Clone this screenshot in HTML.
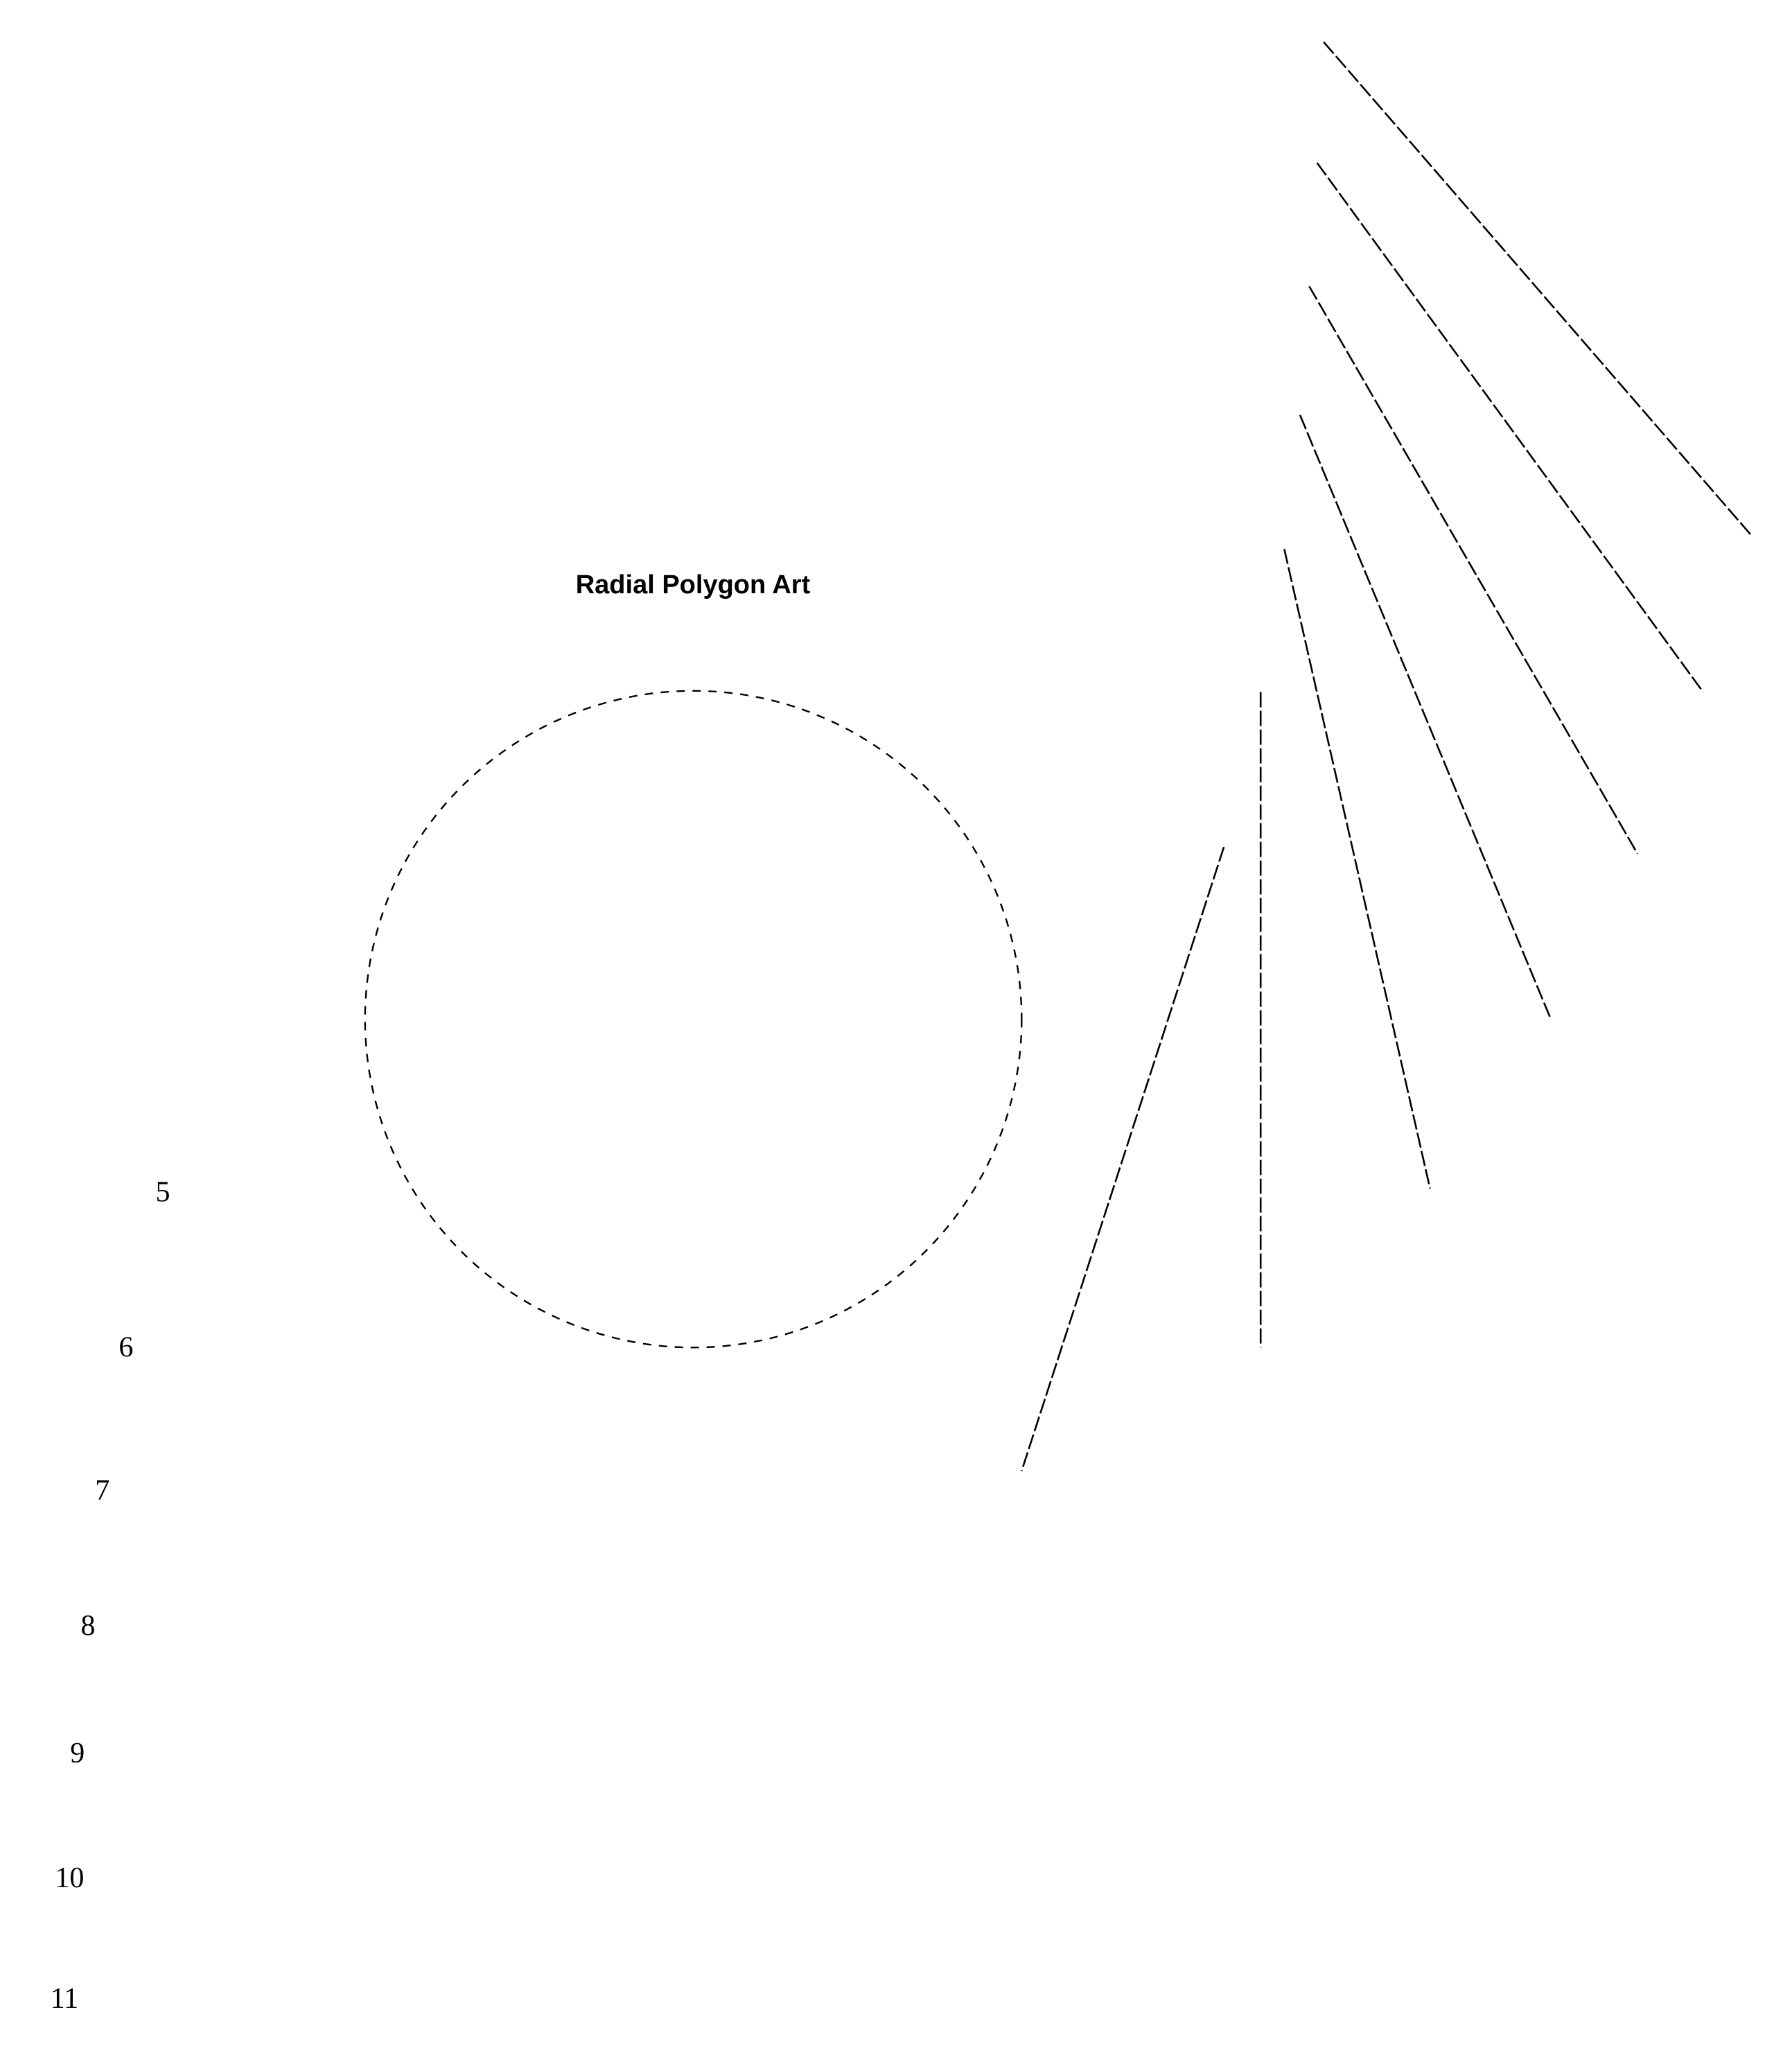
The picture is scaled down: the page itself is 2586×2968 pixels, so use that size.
<!DOCTYPE html>
<html><head><meta charset="utf-8"><style>
html,body{margin:0;padding:0;background:#fff;}
svg{display:block;}
</style></head><body>
<svg id="chart" width="2586" height="2968" viewBox="0 0 2586 2968" xmlns="http://www.w3.org/2000/svg">
<rect width="2586" height="2968" fill="#fff"/>
<text x="1000" y="856" text-anchor="middle" font-family="'Liberation Sans',sans-serif" font-weight="bold" font-size="38">Radial Polygon Art</text>
<g id="marks"></g>
</svg>
<script>
// data (in reference units; scaled via K)
const rayX1 = [1008, 1003, 997, 990, 978, 960, 932];
const rayY1 = [32, 124, 218, 316, 418, 527, 645];
const rayX2 = [1334, 1297, 1247, 1181, 1089, 960, 778];
const rayY2 = [408, 527, 650, 776, 905, 1026, 1120];
const circleCenter = [528, 776];
const circleRadius = [250];
const labelText = ["5","6","7","8","9","10","11"];
const labelX = [124, 96, 78, 67, 59, 53, 49];
const labelY = [908, 1026, 1135, 1238, 1335, 1430, 1522];

const K = 1.895;
function sx(v){ return v*K; }
function sy(v){ return v*K; }
const NS = "http://www.w3.org/2000/svg";
const g = document.getElementById('marks');

const c = document.createElementNS(NS,'circle');


c.setAttribute('cx', sx(circleCenter[0]));
c.setAttribute('cy', sy(circleCenter[1]));
c.setAttribute('r', circleRadius[0]*K);
c.setAttribute('fill','none');
c.setAttribute('stroke','#000');
c.setAttribute('stroke-width','2.4');
c.setAttribute('stroke-dasharray','12 11');
g.appendChild(c);

for (let i=0;i<rayX1.length;i++){
  const l = document.createElementNS(NS,'line');
  
  
  l.setAttribute('x1', sx(rayX1[i]));
  l.setAttribute('y1', sy(rayY1[i]));
  l.setAttribute('x2', sx(rayX2[i]));
  l.setAttribute('y2', sy(rayY2[i]));
  l.setAttribute('stroke','#000');
  l.setAttribute('stroke-width','2.6');
  l.setAttribute('stroke-dasharray','22 5');
  g.appendChild(l);
}

for (let i=0;i<labelText.length;i++){
  const t = document.createElementNS(NS,'text');
  
  
  t.setAttribute('x', sx(labelX[i]));
  t.setAttribute('y', sy(labelY[i]) + 13);
  t.setAttribute('text-anchor','middle');
  t.setAttribute('font-family',"'Liberation Serif',serif");
  t.setAttribute('font-size','42');
  t.textContent = labelText[i];
  g.appendChild(t);
}
</script>
</body></html>
